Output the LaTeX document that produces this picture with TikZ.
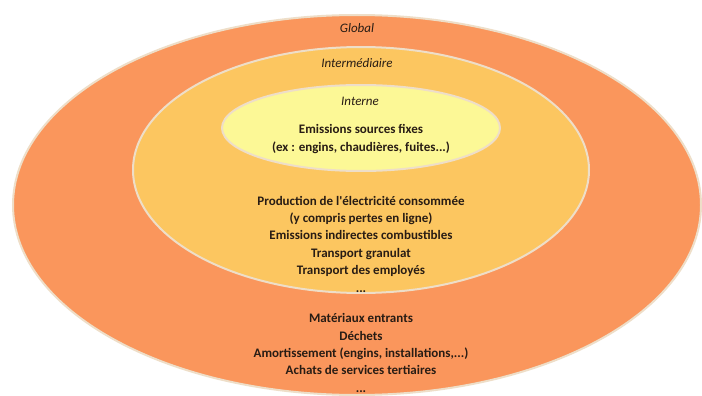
\documentclass[tikz,border=0pt]{standalone}
\usepackage{fontspec}
\setmainfont{Carlito}
\definecolor{globalfill}{RGB}{250,150,92}
\definecolor{interfill}{RGB}{252,198,96}
\definecolor{internefill}{RGB}{252,248,150}
\definecolor{rimcolor}{RGB}{238,222,200}
\definecolor{textcolor}{RGB}{40,28,20}
\begin{document}
\begin{tikzpicture}[x=1pt,y=-1pt,
  ring/.style={draw=rimcolor, line width=2pt},
  titre/.style={font=\itshape\fontsize{13}{15}\selectfont, text=textcolor, inner sep=0pt},
  bloc/.style={font=\bfseries\fontsize{13}{17.4}\selectfont, text=textcolor, align=center, inner sep=0pt}]
\useasboundingbox (0,0) rectangle (702,396);
\fill[white] (0,0) rectangle (702,396);
\draw[ring, fill=globalfill] (357,205) ellipse [x radius=344, y radius=190];
\draw[ring, fill=interfill] (361,170) ellipse [x radius=228, y radius=123];
\draw[ring, fill=internefill] (361,128) ellipse [x radius=139, y radius=43];
\node[titre] (global) at (357,28) {Global};
\node[titre] (intermediaire) at (357,63) {Intermédiaire};
\node[titre] (interne) at (360,101) {Interne};
\node[bloc] (sourcesfixes) at (361,139) {Emissions sources fixes\\(ex : engins, chaudières, fuites...)};
\node[bloc] (indirectes) at (361,244) {Production de l\textquotesingle électricité consommée\\(y compris pertes en ligne)\\Emissions indirectes combustibles\\Transport granulat\\Transport des employés\\...};
\node[bloc] (entrants) at (361,353) {Matériaux entrants\\Déchets\\Amortissement (engins, installations,...)\\Achats de services tertiaires\\...};
\end{tikzpicture}
\end{document}
